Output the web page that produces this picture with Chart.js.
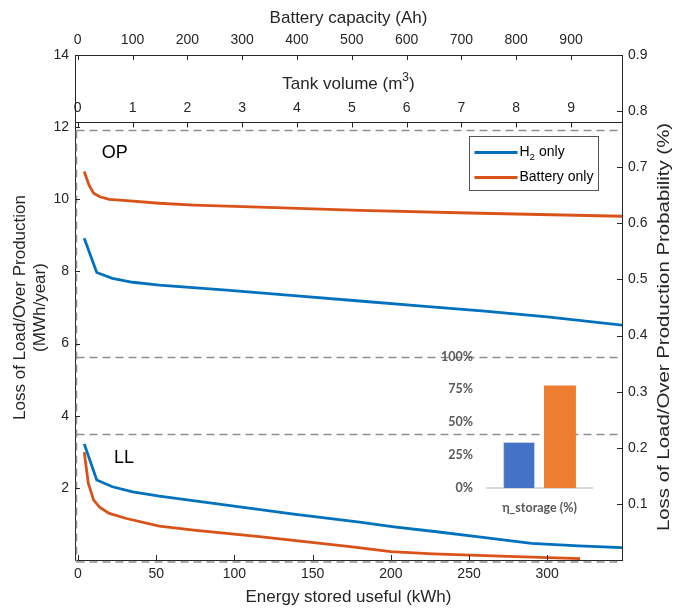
<!DOCTYPE html>
<html>
  <head>
    <title>Loss of Load / Over Production vs energy stored</title>
    <style>
      body { margin: 0; background: #fff; }
      #wrap { position: relative; width: 674px; height: 608px; }
      #mainChart { position: absolute; left: 0; top: 0; }
      #etaChart { position: absolute; left: 420px; top: 335px; }
    </style>
  </head>
  <body>
    <script src="https://cdn.jsdelivr.net/npm/chart.js@4.4.1/dist/chart.umd.min.js"></script>

    <div id="wrap">
      <canvas id="mainChart" width="674" height="608"></canvas>
      <canvas id="etaChart" width="190" height="195"></canvas>
    </div>

    <script>
      // H2 only (blue)
      const h2OpEnergy = [4, 12, 22, 35, 52, 95, 138, 180, 220, 260, 300, 348];
      const h2OpLoss   = [8.92, 7.97, 7.81, 7.70, 7.62, 7.48, 7.33, 7.18, 7.04, 6.90, 6.74, 6.51];
      const h2LlEnergy = [4, 12, 22, 35, 52, 95, 138, 180, 202, 228, 255, 290, 320, 348];
      const h2LlLoss   = [3.22, 2.22, 2.03, 1.89, 1.77, 1.52, 1.27, 1.05, 0.92, 0.79, 0.65, 0.46, 0.39, 0.34];

      // Battery only (orange)
      const batOpEnergy = [4, 7, 10, 14, 20, 31, 52, 74, 116, 180, 250, 348];
      const batOpLoss   = [10.77, 10.40, 10.17, 10.07, 10.00, 9.96, 9.89, 9.84, 9.78, 9.69, 9.62, 9.53];
      const batLlEnergy = [4, 6.6, 10, 14, 20, 31, 52, 74, 116, 174, 200, 227, 270, 321];
      const batLlLoss   = [2.99, 2.13, 1.66, 1.46, 1.29, 1.15, 0.94, 0.83, 0.65, 0.37, 0.23, 0.17, 0.11, 0.04];

      // tick labels
      const energyTicks   = [0, 50, 100, 150, 200, 250, 300];
      const batteryTicks  = [0, 100, 200, 300, 400, 500, 600, 700, 800, 900];
      const tankTicks     = [0, 1, 2, 3, 4, 5, 6, 7, 8, 9];
      const lossTicks     = [2, 4, 6, 8, 10, 12, 14];
      const probTicks     = [0.1, 0.2, 0.3, 0.4, 0.5, 0.6, 0.7, 0.8, 0.9];

      // dashed OP / LL region bounds and tank-axis divider, in MWh/year
      const regionLines = [11.92, 5.63, 3.49];
      const tankDivider = 12.14;

      // inset: storage efficiency
      const etaCategories = ['η_storage (%)'];
      const etaH2 = [35];
      const etaBattery = [78];
      const etaTicks = [0, 25, 50, 75, 100];

      const BLUE = '#0072BD';
      const ORANGE = '#D95319';
      const INK = '#262626';
      const FONT = 'Liberation Sans';

      const pts = (xs, ys) => xs.map((x, i) => ({ x: x, y: ys[i] }));
      const fixTicks = (vals) => (scale) => { scale.ticks = vals.map(v => ({ value: v })); };

      const lineStyle = { pointRadius: 0, borderWidth: 2.8, tension: 0, fill: false };

      function supText(ctx, parts, x, y, size, align) {
        // parts: [text, raised/lowered?]; draws mixed normal + script text
        let total = 0;
        parts.forEach(p => {
          ctx.font = (p[1] ? size * 0.7 : size) + 'px "' + FONT + '"';
          total += ctx.measureText(p[0]).width;
        });
        let cx = align === 'center' ? x - total / 2 : x;
        ctx.textAlign = 'left';
        parts.forEach(p => {
          ctx.font = (p[1] ? size * 0.7 : size) + 'px "' + FONT + '"';
          ctx.fillText(p[0], cx, y + (p[1] || 0));
          cx += ctx.measureText(p[0]).width;
        });
      }

      const decorations = {
        id: 'decorations',
        beforeDatasetsDraw(chart) {
          const { ctx, chartArea: a, scales } = chart;
          const ys = scales.y;
          const xl = a.left + 1.5;
          ctx.save();
          ctx.strokeStyle = '#8f8f8f';
          ctx.lineWidth = 1.5;
          ctx.setLineDash([8, 5]);
          ctx.beginPath();
          regionLines.forEach(v => {
            const py = Math.round(ys.getPixelForValue(v)) + 0.5;
            ctx.moveTo(xl, py);
            ctx.lineTo(a.right, py);
          });
          ctx.moveTo(xl, Math.round(ys.getPixelForValue(regionLines[0])) + 0.5);
          ctx.lineTo(xl, a.bottom + 2);
          ctx.moveTo(xl, a.bottom + 2);
          ctx.lineTo(a.right, a.bottom + 2);
          ctx.stroke();
          ctx.restore();
        },
        afterDraw(chart) {
          const { ctx, chartArea: a, scales } = chart;
          const { x, y, y2, xTop, xTank } = scales;
          ctx.save();
          ctx.strokeStyle = INK;
          ctx.fillStyle = INK;
          ctx.lineWidth = 1;

          // divider between tank-volume strip and main plot
          const dy = Math.round(y.getPixelForValue(tankDivider)) + 0.5;
          ctx.beginPath();
          ctx.moveTo(a.left, dy);
          ctx.lineTo(a.right, dy);

          // inward tick marks
          const L = 5;
          energyTicks.forEach(v => {
            const px = Math.round(x.getPixelForValue(v)) + 0.5;
            ctx.moveTo(px, a.bottom); ctx.lineTo(px, a.bottom - L);
          });
          batteryTicks.forEach(v => {
            const px = Math.round(xTop.getPixelForValue(v)) + 0.5;
            ctx.moveTo(px, a.top); ctx.lineTo(px, a.top + L);
          });
          tankTicks.forEach(v => {
            const px = Math.round(xTank.getPixelForValue(v)) + 0.5;
            ctx.moveTo(px, dy); ctx.lineTo(px, dy + L);
          });
          lossTicks.forEach(v => {
            const py = Math.round(y.getPixelForValue(v)) + 0.5;
            ctx.moveTo(a.left, py); ctx.lineTo(a.left + L, py);
          });
          probTicks.forEach(v => {
            const py = Math.round(y2.getPixelForValue(v)) + 0.5;
            ctx.moveTo(a.right, py); ctx.lineTo(a.right - L, py);
          });
          ctx.stroke();

          // tank volume axis (labels inside the top strip)
          ctx.textBaseline = 'middle';
          ctx.textAlign = 'center';
          ctx.font = '14px "' + FONT + '"';
          tankTicks.forEach(v => {
            ctx.fillText(String(v), xTank.getPixelForValue(v), dy - 14);
          });
          supText(ctx, [['Tank volume (m'], ['3', -7], [')']], (a.left + a.right) / 2, dy - 38, 17, 'center');

          // region labels
          ctx.font = '18px "' + FONT + '"';
          ctx.textAlign = 'center';
          ctx.fillStyle = '#000';
          ctx.fillText('OP', x.getPixelForValue(23.5), y.getPixelForValue(11.28));
          ctx.fillText('LL', x.getPixelForValue(29.5), y.getPixelForValue(2.83));

          // legend
          const lx = 469.5, ly = 136.5, lw = 129, lh = 54;
          ctx.fillStyle = '#fff';
          ctx.fillRect(lx, ly, lw, lh);
          ctx.strokeStyle = '#555';
          ctx.strokeRect(lx, ly, lw, lh);
          const items = [chart.data.datasets[0], chart.data.datasets[2]];
          items.forEach((ds, i) => {
            const iy = ly + 16 + i * 25;
            ctx.strokeStyle = ds.borderColor;
            ctx.lineWidth = 2.8;
            ctx.beginPath();
            ctx.moveTo(lx + 5, iy);
            ctx.lineTo(lx + 48, iy);
            ctx.stroke();
            ctx.fillStyle = '#000';
            ctx.textBaseline = 'middle';
            if (i === 0) {
              supText(ctx, [['H'], ['2', 5], [' only']], lx + 50, iy, 14, 'left');
            } else {
              ctx.font = '14px "' + FONT + '"';
              ctx.textAlign = 'left';
              ctx.fillText(ds.label, lx + 50, iy);
            }
          });

          // right axis title, reading bottom to top
          ctx.fillStyle = INK;
          ctx.font = '17px "' + FONT + '"';
          ctx.textAlign = 'center';
          ctx.textBaseline = 'middle';
          ctx.translate(664, 327);
          ctx.rotate(-Math.PI / 2);
          ctx.scale(1.2, 1);
          ctx.fillText('Loss of Load/Over Production Probability (%)', 0, 0);
          ctx.restore();
        }
      };

      const tickFont = { family: FONT, size: 14 };
      const titleFont = { family: FONT, size: 17 };
      const noGrid = { display: false, drawTicks: false };
      const border = { display: true, color: INK, width: 1 };

      new Chart(document.getElementById('mainChart'), {
        type: 'line',
        data: {
          datasets: [
            { label: 'H2 only', data: pts(h2OpEnergy, h2OpLoss), borderColor: BLUE, ...lineStyle },
            { label: 'H2 only LL', data: pts(h2LlEnergy, h2LlLoss), borderColor: BLUE, ...lineStyle },
            { label: 'Battery only', data: pts(batOpEnergy, batOpLoss), borderColor: ORANGE, ...lineStyle },
            { label: 'Battery only LL', data: pts(batLlEnergy, batLlLoss), borderColor: ORANGE, ...lineStyle }
          ]
        },
        options: {
          responsive: false,
          animation: false,
          devicePixelRatio: 1,
          layout: { padding: 0 },
          plugins: { legend: { display: false }, tooltip: { enabled: false } },
          scales: {
            x: {
              type: 'linear', position: 'bottom', min: -1.9, max: 347.8,
              afterBuildTicks: fixTicks(energyTicks),
              afterFit: s => { s.height = 48; },
              grid: noGrid, border: border,
              ticks: { font: tickFont, color: INK, padding: 6, maxRotation: 0 },
              title: { display: true, text: 'Energy stored useful (kWh)', font: titleFont, color: INK, padding: { top: 0, bottom: 0 } }
            },
            xTop: {
              type: 'linear', position: 'top', min: -5, max: 993,
              afterBuildTicks: fixTicks(batteryTicks),
              afterFit: s => { s.height = 55; },
              grid: noGrid, border: border,
              ticks: { font: tickFont, color: INK, padding: 6, maxRotation: 0 },
              title: { display: true, text: 'Battery capacity (Ah)', font: titleFont, color: INK, padding: { top: 8, bottom: 0 } }
            },
            xTank: {
              type: 'linear', display: false, min: -0.05, max: 9.93
            },
            y: {
              type: 'linear', position: 'left', min: 0, max: 14,
              afterBuildTicks: fixTicks(lossTicks),
              afterFit: s => { s.width = 75; },
              grid: noGrid, border: border,
              ticks: { font: tickFont, color: INK, padding: 6, callback: v => String(v) },
              title: { display: true, text: ['Loss of Load/Over Production', '(MWh/year)'], font: titleFont, color: INK, padding: { top: 10, bottom: 0 } }
            },
            y2: {
              type: 'linear', position: 'right', min: 0, max: 0.9,
              afterBuildTicks: fixTicks(probTicks),
              afterFit: s => { s.width = 52; },
              grid: noGrid, border: border,
              ticks: { font: tickFont, color: INK, padding: 6, callback: v => v.toFixed(1) }
            }
          }
        },
        plugins: [decorations]
      });

      const insetFont = { family: 'Lato', size: 12.5, weight: 'bold' };

      new Chart(document.getElementById('etaChart'), {
        type: 'bar',
        data: {
          labels: etaCategories,
          datasets: [
            { label: 'H2 only', data: etaH2, backgroundColor: '#4472C4', borderColor: '#bfcfee', borderWidth: 1 },
            { label: 'Battery only', data: etaBattery, backgroundColor: '#ED7D31' }
          ]
        },
        options: {
          responsive: false,
          animation: false,
          devicePixelRatio: 1,
          categoryPercentage: 0.78,
          barPercentage: 0.78,
          layout: { padding: { left: 0, right: 18, top: 17, bottom: 0 } },
          plugins: { legend: { display: false }, tooltip: { enabled: false } },
          scales: {
            x: {
              grid: { display: false, drawTicks: false },
              border: { display: true, color: '#d9d9d9', width: 2 },
              ticks: { font: insetFont, color: '#595959', padding: 12 },
              afterFit: s => { s.height = 42; }
            },
            y: {
              min: 0, max: 100,
              afterBuildTicks: fixTicks(etaTicks),
              grid: { display: false, drawTicks: false },
              border: { display: false },
              ticks: { font: insetFont, color: '#595959', padding: 14, callback: v => v + '%' },
              afterFit: s => { s.width = 67; }
            }
          }
        }
      });
    </script>
  </body>
</html>
